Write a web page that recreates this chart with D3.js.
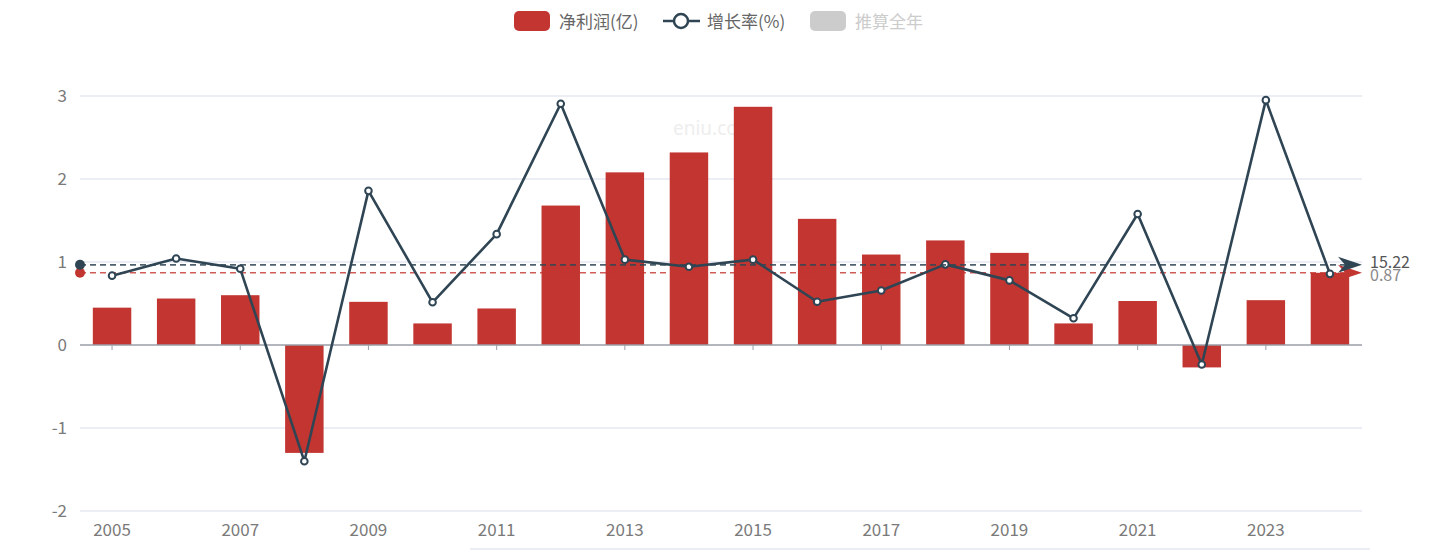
<!DOCTYPE html>
<html><head><meta charset="utf-8">
<script src="https://cdn.jsdelivr.net/npm/d3@7/dist/d3.min.js"></script>
<style>
html,body{margin:0;padding:0;background:#fff;}
svg{display:block;font-family:"Noto Sans CJK SC","Noto Sans",sans-serif;}
</style></head>
<body><svg id="c" width="1439" height="551"></svg>
<script>
const years = ["2005","2006","2007","2008","2009","2010","2011","2012","2013","2014","2015","2016","2017","2018","2019","2020","2021","2022","2023","2024"];
const profit = [0.45,0.56,0.60,-1.30,0.52,0.26,0.44,1.68,2.08,2.32,2.87,1.52,1.09,1.26,1.11,0.26,0.53,-0.27,0.54,0.87];
const growth = [-3,26,8.5,-316,140,-48,67,287,24,12,24,-47,-28,16,-11,-75,101,-153,293,0];
const avgGrowth = 15.22;
const avgProfit = 0.87;
const yTicks = [-2,-1,0,1,2,3];
const legendNames = ["净利润(亿)","增长率(%)","推算全年"];

const red = "#c23531", slate = "#2f4554";
const svg = d3.select("#c");
const L = 80, R = 1362, T = 96, B = 511;

const x = d3.scaleBand().domain(years).range([L,R]).paddingInner(0.4).paddingOuter(0.2);
const xc = d => x(d) + x.bandwidth()/2;
const y = d3.scaleLinear().domain([-2,3]).range([B,T]);
const y2 = d3.scaleLinear().domain([-400,300]).range([B,T]);

// watermark
svg.append("text").attr("x",673).attr("y",135).attr("font-size",19).attr("fill","#eeeeee").attr("font-family","Noto Sans, sans-serif").text("eniu.com");

// grid
svg.append("g").selectAll("line").data(yTicks.filter(t=>t!==0)).join("line")
  .attr("x1",L).attr("x2",R).attr("y1",d=>y(d)).attr("y2",d=>y(d))
  .attr("stroke","#e4e8f1").attr("stroke-width",1.3);

// y labels
svg.append("g").selectAll("text").data(yTicks).join("text")
  .attr("x",67).attr("y",d=>y(d)+6).attr("text-anchor","end")
  .attr("font-size",17).attr("fill","#7a7a7a").text(d=>d);

// bars
svg.append("g").selectAll("rect").data(profit).join("rect")
  .attr("x",(d,i)=>x(years[i])).attr("width",x.bandwidth())
  .attr("y",d=>y(Math.max(0,d))).attr("height",d=>Math.abs(y(d)-y(0)))
  .attr("fill",red);

// zero axis line
svg.append("line").attr("x1",L).attr("x2",R).attr("y1",y(0)).attr("y2",y(0)).attr("stroke","#9a9ea6").attr("stroke-width",1.6);

// x ticks & labels (every other)
const shown = years.filter((d,i)=>i%2===0);
svg.append("g").selectAll("line").data(shown).join("line")
  .attr("x1",xc).attr("x2",xc).attr("y1",y(0)).attr("y2",y(0)+5).attr("stroke","#9a9ea6");
svg.append("g").selectAll("text").data(shown).join("text")
  .attr("x",xc).attr("y",536).attr("text-anchor","middle")
  .attr("font-size",17).attr("fill","#7a7a7a").text(d=>d);

// bottom faint line
svg.append("line").attr("x1",470).attr("x2",1370).attr("y1",549).attr("y2",549).attr("stroke","#e3e7ef").attr("stroke-width",1.5);

// mark lines
function markLine(yy, color, label, labelDy, labelColor, op){
  const g = svg.append("g");
  g.append("line").attr("x1",L).attr("x2",R-8).attr("y1",yy).attr("y2",yy)
    .attr("stroke",color).attr("stroke-opacity",op).attr("stroke-width",1.6).attr("stroke-dasharray","6,4");
  g.append("circle").attr("cx",L).attr("cy",yy).attr("r",5).attr("fill",color);
  g.append("path").attr("d",`M${R},${yy} L${R-24},${yy-8} L${R-17},${yy} L${R-24},${yy+8} Z`).attr("fill",color);
  g.append("text").attr("x",R+8).attr("y",yy+labelDy).attr("font-size",16).attr("fill",labelColor).text(label);
}
markLine(y(avgProfit), red, avgProfit.toFixed(2), 8, "#8a8a8a", 0.8);

// growth line
const line = d3.line().x((d,i)=>xc(years[i])).y(d=>y2(d));
svg.append("path").datum(growth).attr("d",line).attr("fill","none").attr("stroke",slate).attr("stroke-width",2.6).attr("stroke-linejoin","round");
svg.append("g").selectAll("circle").data(growth).join("circle")
  .attr("cx",(d,i)=>xc(years[i])).attr("cy",d=>y2(d)).attr("r",3.3)
  .attr("fill","#fff").attr("stroke",slate).attr("stroke-width",2);

markLine(y2(avgGrowth), slate, avgGrowth.toFixed(2), 3, "#555", 0.85);

// legend
const lg = svg.append("g");
lg.append("rect").attr("x",514).attr("y",11).attr("width",36).attr("height",20).attr("rx",5).attr("fill",red);
lg.append("text").attr("x",559).attr("y",28).attr("font-size",17).attr("fill","#666").text(legendNames[0]);
lg.append("line").attr("x1",663).attr("x2",700).attr("y1",21).attr("y2",21).attr("stroke",slate).attr("stroke-width",2.5);
lg.append("circle").attr("cx",681).attr("cy",21).attr("r",7).attr("fill","#fff").attr("stroke",slate).attr("stroke-width",2.5);
lg.append("text").attr("x",707).attr("y",28).attr("font-size",17).attr("fill","#666").text(legendNames[1]);
lg.append("rect").attr("x",810).attr("y",11).attr("width",36).attr("height",20).attr("rx",5).attr("fill","#ccc");
lg.append("text").attr("x",855).attr("y",28).attr("font-size",17).attr("fill","#ccc").text(legendNames[2]);
</script></body></html>
